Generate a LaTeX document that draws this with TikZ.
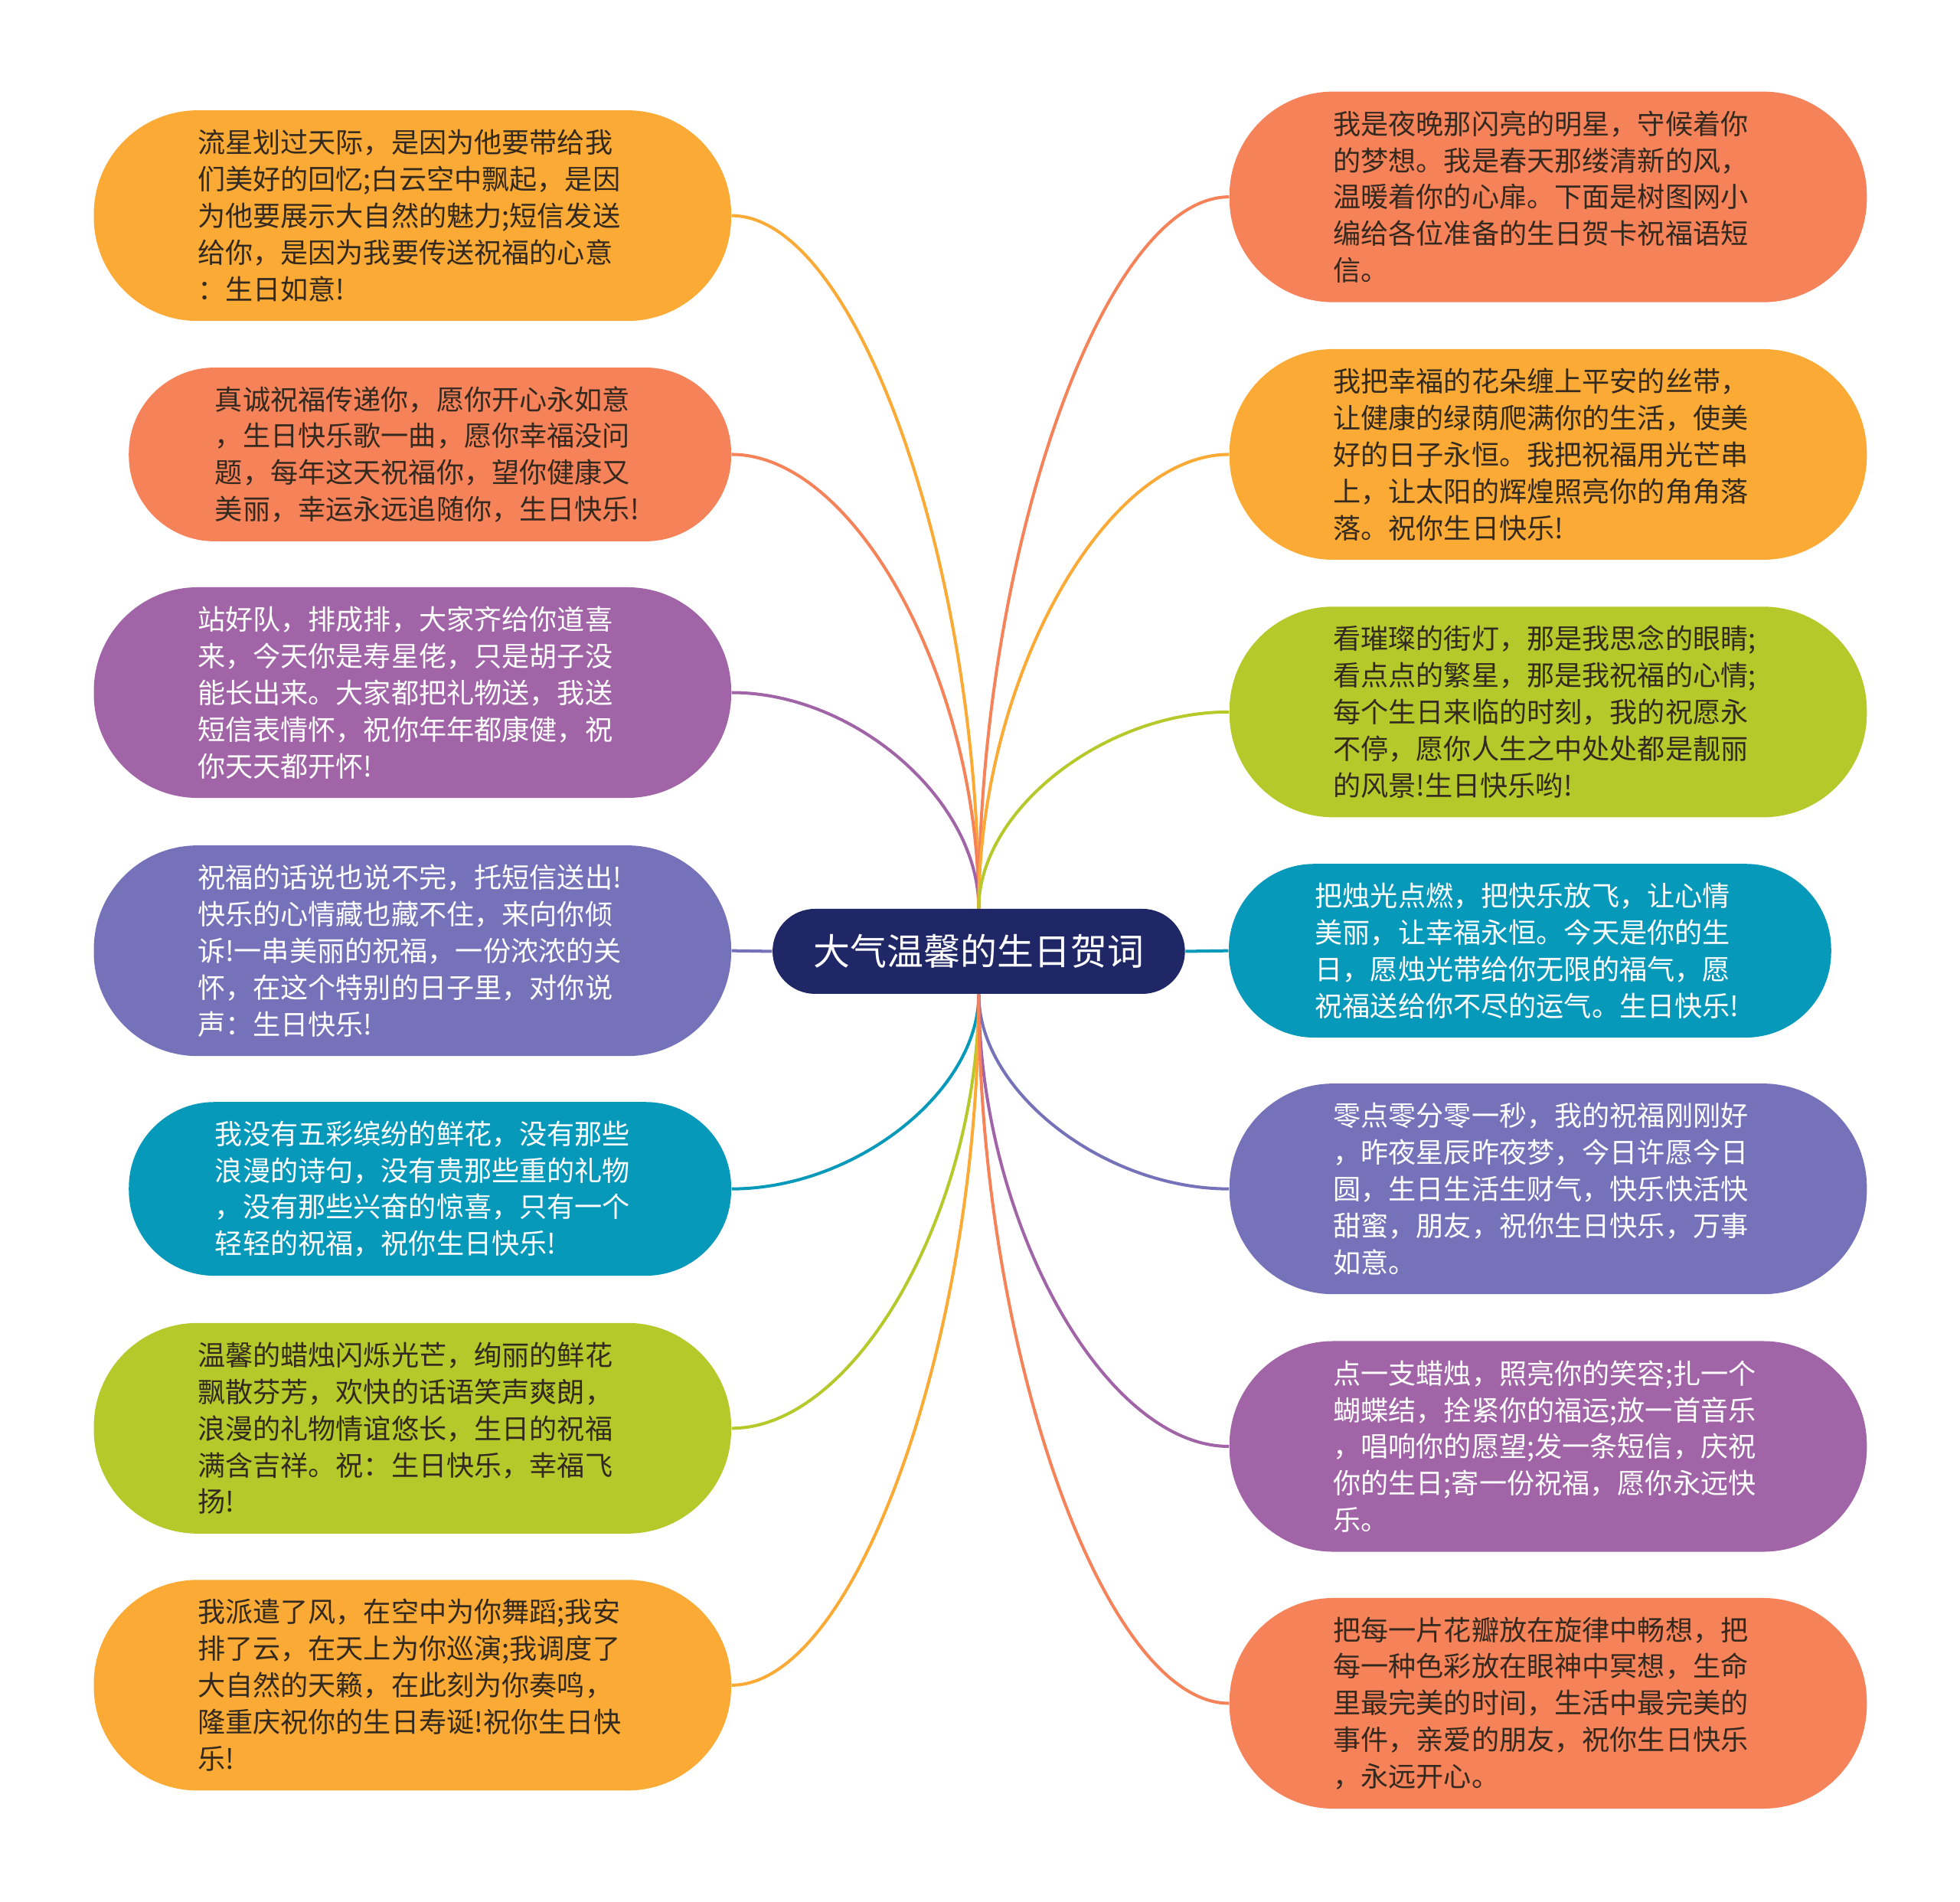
\documentclass[tikz,border=0pt]{standalone}
\usepackage{fontspec}
\newfontfamily\cjk{Noto Sans CJK SC}
\usetikzlibrary{calc,backgrounds}

\definecolor{cOrange}{HTML}{FBAB35}
\definecolor{cCoral}{HTML}{F6825A}
\definecolor{cPurple}{HTML}{A064A7}
\definecolor{cViolet}{HTML}{7672B9}
\definecolor{cTeal}{HTML}{0699BA}
\definecolor{cLime}{HTML}{B5C92B}
\definecolor{cNavy}{HTML}{1F2766}
\definecolor{cInk}{HTML}{33291F}

\tikzset{
  branch/.style={draw=#1, line width=1.4pt,
    to path={.. controls ($(\tikztostart)!.5!(\tikztostart |- \tikztotarget)$)
      and ($(\tikztotarget)!.5!(\tikztostart |- \tikztotarget)$) .. (\tikztotarget)}},
}

\begin{document}
\begin{tikzpicture}[x=0.02cm, y=-0.02cm,
  root node/.style={fill=cNavy, text=white, rounded corners=0.68cm, minimum width=6.6cm, minimum height=1.36cm, font=\cjk\fontsize{16.7}{20}\selectfont},
  big node/.style={fill=#1, rounded corners=1.66cm, minimum width=10.2cm, minimum height=3.37cm, text width=6.88cm, align=left, font=\cjk\fontsize{12.6}{16.7}\selectfont},
  small node/.style={big node=#1, rounded corners=1.37cm, minimum width=9.64cm, minimum height=2.78cm},
  ink text/.style={text=cInk}, white text/.style={text=white}]
\useasboundingbox (0,0) rectangle (1568,1521);

\node[root node] (root) at (783,761) {大气温馨的生日贺词};

% left side
\node[big node=cOrange, ink text] (L1) at (330,172.5) {流星划过天际，是因为他要带给我\\们美好的回忆;白云空中飘起，是因\\为他要展示大自然的魅力;短信发送\\给你，是因为我要传送祝福的心意\\：生日如意!};
\node[small node=cCoral, ink text] (L2) at (344,363.5) {真诚祝福传递你，愿你开心永如意\\，生日快乐歌一曲，愿你幸福没问\\题，每年这天祝福你，望你健康又\\美丽，幸运永远追随你，生日快乐!};
\node[big node=cPurple, white text] (L3) at (330,554) {站好队，排成排，大家齐给你道喜\\来，今天你是寿星佬，只是胡子没\\能长出来。大家都把礼物送，我送\\短信表情怀，祝你年年都康健，祝\\你天天都开怀!};
\node[big node=cViolet, white text] (L4) at (330,760.5) {祝福的话说也说不完，托短信送出!\\快乐的心情藏也藏不住，来向你倾\\诉!一串美丽的祝福，一份浓浓的关\\怀，在这个特别的日子里，对你说\\声：生日快乐!};
\node[small node=cTeal, white text] (L5) at (344,951) {我没有五彩缤纷的鲜花，没有那些\\浪漫的诗句，没有贵那些重的礼物\\，没有那些兴奋的惊喜，只有一个\\轻轻的祝福，祝你生日快乐!};
\node[big node=cLime, ink text] (L6) at (330,1142.5) {温馨的蜡烛闪烁光芒，绚丽的鲜花\\飘散芬芳，欢快的话语笑声爽朗，\\浪漫的礼物情谊悠长，生日的祝福\\满含吉祥。祝：生日快乐，幸福飞\\扬!};
\node[big node=cOrange, ink text] (L7) at (330,1348) {我派遣了风，在空中为你舞蹈;我安\\排了云，在天上为你巡演;我调度了\\大自然的天籁，在此刻为你奏鸣，\\隆重庆祝你的生日寿诞!祝你生日快\\乐!};

% right side
\node[big node=cCoral, ink text] (R1) at (1238.5,157.5) {我是夜晚那闪亮的明星，守候着你\\的梦想。我是春天那缕清新的风，\\温暖着你的心扉。下面是树图网小\\编给各位准备的生日贺卡祝福语短\\信。};
\node[big node=cOrange, ink text] (R2) at (1238.5,363.5) {我把幸福的花朵缠上平安的丝带，\\让健康的绿荫爬满你的生活，使美\\好的日子永恒。我把祝福用光芒串\\上，让太阳的辉煌照亮你的角角落\\落。祝你生日快乐!};
\node[big node=cLime, ink text] (R3) at (1238.5,569.5) {看璀璨的街灯，那是我思念的眼睛;\\看点点的繁星，那是我祝福的心情;\\每个生日来临的时刻，我的祝愿永\\不停，愿你人生之中处处都是靓丽\\的风景!生日快乐哟!};
\node[small node=cTeal, white text] (R4) at (1224,760.5) {把烛光点燃，把快乐放飞，让心情\\美丽，让幸福永恒。今天是你的生\\日，愿烛光带给你无限的福气，愿\\祝福送给你不尽的运气。生日快乐!};
\node[big node=cViolet, white text] (R5) at (1238.5,951) {零点零分零一秒，我的祝福刚刚好\\，昨夜星辰昨夜梦，今日许愿今日\\圆，生日生活生财气，快乐快活快\\甜蜜，朋友，祝你生日快乐，万事\\如意。};
\node[big node=cPurple, white text] (R6) at (1238.5,1157) {点一支蜡烛，照亮你的笑容;扎一个\\蝴蝶结，拴紧你的福运;放一首音乐\\，唱响你的愿望;发一条短信，庆祝\\你的生日;寄一份祝福，愿你永远快\\乐。};
\node[big node=cCoral, ink text] (R7) at (1238.5,1362.5) {把每一片花瓣放在旋律中畅想，把\\每一种色彩放在眼神中冥想，生命\\里最完美的时间，生活中最完美的\\事件，亲爱的朋友，祝你生日快乐\\，永远开心。};

\begin{scope}[on background layer]
\path
(root.north) edge[branch=cOrange] (L1.east)
(root.north) edge[branch=cCoral] (L2.east)
(root.north) edge[branch=cPurple] (L3.east)
(root.west) edge[draw=cViolet, line width=1.4pt] (L4.east)
(root.south) edge[branch=cTeal] (L5.east)
(root.south) edge[branch=cLime] (L6.east)
(root.south) edge[branch=cOrange] (L7.east)

(root.north) edge[branch=cCoral] (R1.west)
(root.north) edge[branch=cOrange] (R2.west)
(root.north) edge[branch=cLime] (R3.west)
(root.east) edge[draw=cTeal, line width=1.4pt] (R4.west)
(root.south) edge[branch=cViolet] (R5.west)
(root.south) edge[branch=cPurple] (R6.west)
(root.south) edge[branch=cCoral] (R7.west);
\end{scope}

\end{tikzpicture}
\end{document}
